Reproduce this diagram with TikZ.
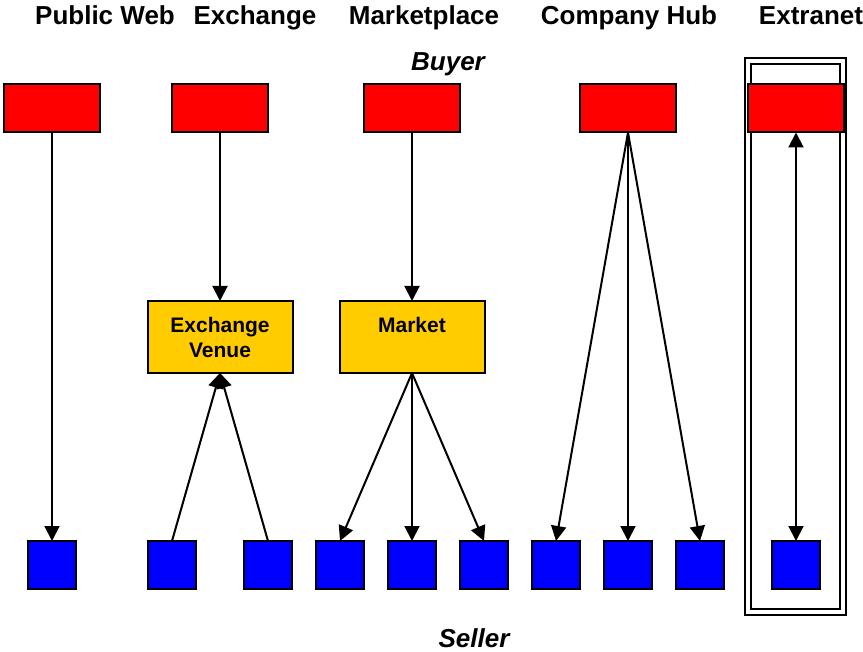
\documentclass[tikz,border=0pt]{standalone}
\usepackage{fontspec}
\setmainfont{Liberation Sans}
\usetikzlibrary{arrows.meta}
\definecolor{gold}{RGB}{255,204,0}

\begin{document}
\begin{tikzpicture}[->,>={Triangle[length=7.5pt,width=7.5pt]},x=0.5pt,y=-0.5pt,
                    line width=1pt,font=\bfseries]

  \tikzstyle{buyer}  = [draw, fill=red, minimum width=48pt, minimum height=24pt,
                        inner sep=0pt, outer sep=0pt]
  \tikzstyle{seller} = [draw, fill=blue, minimum size=24pt, inner sep=0pt, outer sep=0pt]
  \tikzstyle{venue}  = [draw, fill=gold, minimum width=72.5pt, minimum height=36pt,
                        outer sep=0pt, align=center,
                        font=\fontsize{10.5}{12.5}\selectfont\bfseries]
  \tikzstyle{title}  = [anchor=base, font=\fontsize{13}{15}\selectfont\bfseries]
  \tikzstyle{role}   = [anchor=base, font=\fontsize{13}{15}\selectfont\bfseries\itshape]

  \useasboundingbox (0,0) rectangle (863,652);

  % extranet frame
  \draw[-, double, double distance=2pt] (748,61) rectangle (843,612);

  \node[title] (tWeb)  at (105,25) {Public Web};
  \node[title] (tExc)  at (255,25) {Exchange};
  \node[title] (tMkt)  at (424,25) {Marketplace};
  \node[title] (tHub)  at (629,25) {Company Hub};
  \node[title] (tExt)  at (811,25) {Extranet};
  \node[role]  (buy)   at (448,71) {Buyer};
  \node[role]  (sell)  at (474,647) {Seller};

  \node[buyer] (b1) at (52,108.5)  {};
  \node[buyer] (b2) at (220,108.5) {};
  \node[buyer] (b3) at (412,108.5) {};
  \node[buyer] (b4) at (628,108.5) {};
  \node[buyer] (b5) at (796,108.5) {};

  \node[venue] (ven) at (220,337) {Exchange\\Venue};
  \node[venue] (mkt) at (412,337) {Market\\\mbox{}};

  \node[seller] (s1)  at (52,565)  {};
  \node[seller] (s2)  at (172,565) {};
  \node[seller] (s3)  at (268,565) {};
  \node[seller] (s4)  at (340,565) {};
  \node[seller] (s5)  at (412,565) {};
  \node[seller] (s6)  at (484,565) {};
  \node[seller] (s7)  at (556,565) {};
  \node[seller] (s8)  at (628,565) {};
  \node[seller] (s9)  at (700,565) {};
  \node[seller] (s10) at (796,565) {};

  \path (b1.south) edge (s1.north)
        (b2.south) edge (ven.north)
        (s2.north) edge (ven.south)
        (s3.north) edge (ven.south)
        (b3.south) edge (mkt.north)
        (mkt.south) edge (s4.north)
        (mkt.south) edge (s5.north)
        (mkt.south) edge (s6.north)
        (b4.south) edge (s7.north)
        (b4.south) edge (s8.north)
        (b4.south) edge (s9.north)
        (b5.south) edge [<->] (s10.north);
\end{tikzpicture}
\end{document}
